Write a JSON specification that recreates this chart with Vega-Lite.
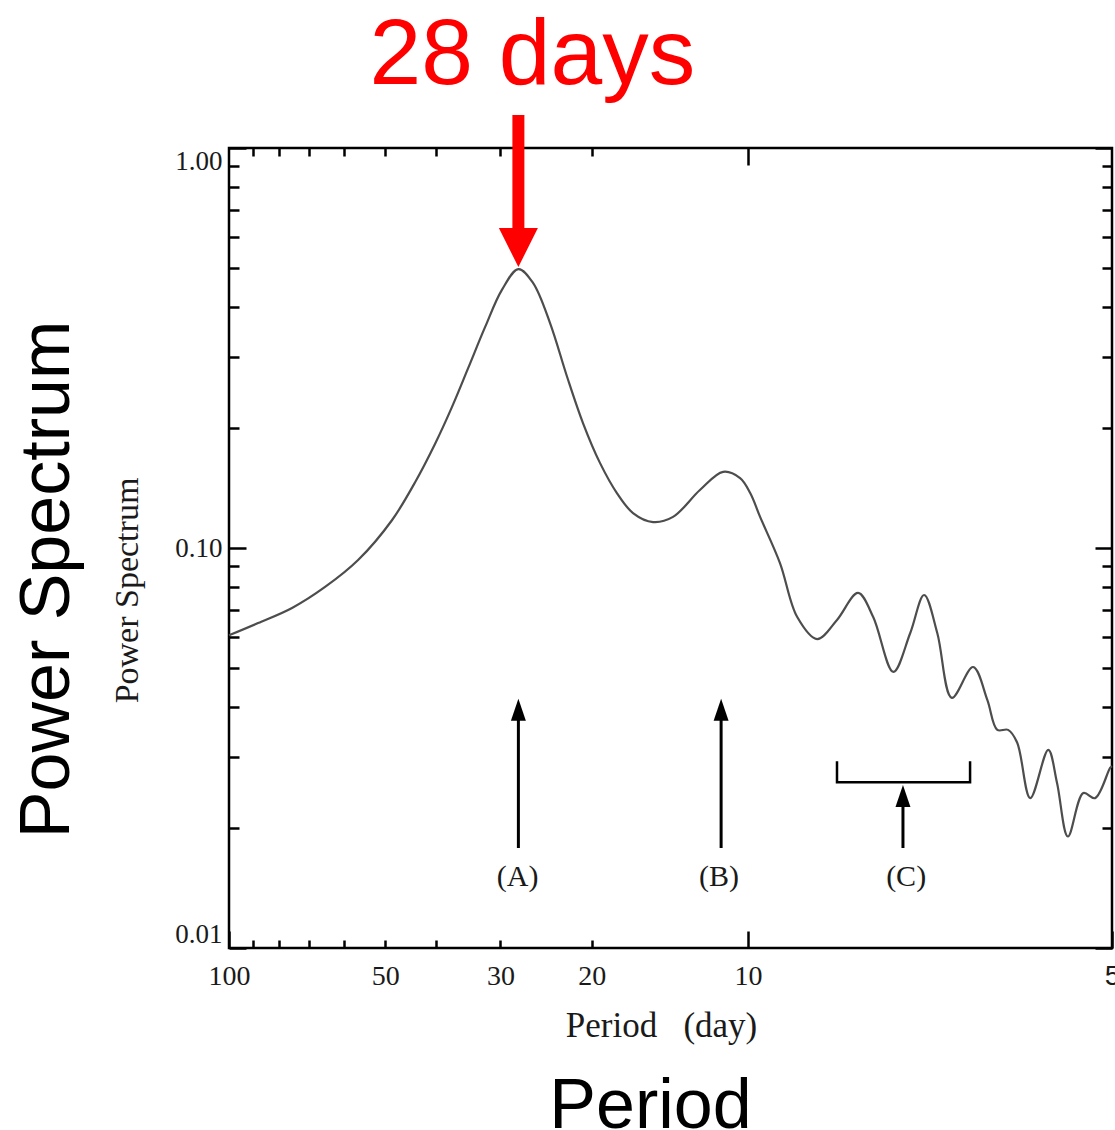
{
  "$schema": "https://vega.github.io/schema/vega-lite/v6.json",
  "width": 883,
  "height": 800,
  "autosize": {"type": "none"},
  "padding": {"left": 229, "top": 148, "right": 3, "bottom": 182},
  "background": "#ffffff",
  "config": {
    "view": {"stroke": "#000000", "strokeWidth": 2.5},
    "axis": {
      "grid": false, "domain": false, "tickColor": "#000000", "tickWidth": 2.5,
      "labelColor": "#1a1a1a", "labelFont": "Liberation Serif", "labelFontSize": 28,
      "labelOverlap": false, "labelBound": false, "labelFlush": false,
      "titleFontWeight": "normal", "titleColor": "#1a1a1a"
    }
  },
  "datasets": {
    "curve": [
      {"period": 100, "power": 0.0605},
      {"period": 87.9, "power": 0.0649},
      {"period": 75.6, "power": 0.0708},
      {"period": 65.3, "power": 0.0799},
      {"period": 56.4, "power": 0.0933},
      {"period": 48.5, "power": 0.1175},
      {"period": 43.8, "power": 0.146},
      {"period": 40.1, "power": 0.182},
      {"period": 37.2, "power": 0.225},
      {"period": 34.6, "power": 0.282},
      {"period": 32.1, "power": 0.357},
      {"period": 29.8, "power": 0.442},
      {"period": 27.7, "power": 0.498},
      {"period": 25.96, "power": 0.46},
      {"period": 24.07, "power": 0.365},
      {"period": 22.32, "power": 0.268},
      {"period": 20.79, "power": 0.205},
      {"period": 19.28, "power": 0.163},
      {"period": 17.88, "power": 0.137},
      {"period": 16.66, "power": 0.1223},
      {"period": 15.24, "power": 0.1161},
      {"period": 13.95, "power": 0.1196},
      {"period": 12.38, "power": 0.1396},
      {"period": 11.17, "power": 0.155},
      {"period": 10.36, "power": 0.1495},
      {"period": 9.9, "power": 0.137},
      {"period": 9.48, "power": 0.1196},
      {"period": 8.68, "power": 0.0917},
      {"period": 8.04, "power": 0.0672},
      {"period": 7.36, "power": 0.0592},
      {"period": 6.74, "power": 0.0661},
      {"period": 6.14, "power": 0.0772},
      {"period": 5.74, "power": 0.0672},
      {"period": 5.25, "power": 0.049},
      {"period": 4.87, "power": 0.0613},
      {"period": 4.58, "power": 0.0763},
      {"period": 4.32, "power": 0.0613},
      {"period": 4.05, "power": 0.0422},
      {"period": 3.685, "power": 0.0504},
      {"period": 3.46, "power": 0.0417},
      {"period": 3.31, "power": 0.0351},
      {"period": 3.155, "power": 0.0351},
      {"period": 3.03, "power": 0.0326},
      {"period": 2.86, "power": 0.0237},
      {"period": 2.64, "power": 0.0313},
      {"period": 2.54, "power": 0.0259},
      {"period": 2.42, "power": 0.019},
      {"period": 2.26, "power": 0.0244},
      {"period": 2.145, "power": 0.0237},
      {"period": 2.007, "power": 0.0282},
      {"period": 1.99, "power": 0.0285}
    ],
    "arrows": [
      {"label": "A", "period": 27.7, "lo": 0.01778, "hi": 0.0372, "head": 0.0394},
      {"label": "B", "period": 11.27, "lo": 0.01778, "hi": 0.0372, "head": 0.0394},
      {"label": "C", "period": 5.03, "lo": 0.01778, "hi": 0.0231, "head": 0.024}
    ],
    "bracket": [
      {"i": 1, "period": 6.74, "power": 0.0293},
      {"i": 2, "period": 6.74, "power": 0.02596},
      {"i": 3, "period": 3.735, "power": 0.02596},
      {"i": 4, "period": 3.735, "power": 0.0293}
    ],
    "labels": [
      {"text": "(A)", "period": 27.8, "power": 0.01503},
      {"text": "(B)", "period": 11.37, "power": 0.01503},
      {"text": "(C)", "period": 4.96, "power": 0.01503}
    ],
    "peak": [
      {"period": 27.7, "top": 1.209, "bottom": 0.616, "head": 0.564, "textpos": 1.445, "text": "28 days"}
    ]
  },
  "resolve": {"axis": {"x": "independent", "y": "independent"}},
  "layer": [
    {
      "data": {"name": "curve"},
      "mark": {"type": "line", "color": "#4d4d4d", "strokeWidth": 2.2, "interpolate": "catmull-rom"},
      "encoding": {
        "x": {"field": "period", "type": "quantitative",
          "scale": {"type": "log", "domain": [100, 1.99], "nice": false},
          "axis": {"orient": "bottom", "values": [90, 80, 70, 60, 50, 40, 30, 20], "tickSize": -8, "labelPadding": 22,
            "labelExpr": "(datum.value == 50 || datum.value == 30 || datum.value == 20) ? format(datum.value, 'd') : ''",
            "title": "Period\u00a0\u00a0\u00a0(day)", "titleFont": "Liberation Serif", "titleFontSize": 35,
            "titleX": 432, "titleY": 88, "titleBaseline": "alphabetic", "titleAlign": "center"}},
        "y": {"field": "power", "type": "quantitative",
          "scale": {"type": "log", "domain": [0.01, 1], "nice": false},
          "axis": {"orient": "left", "values": [0.02, 0.03, 0.04, 0.05, 0.06, 0.07, 0.08, 0.09, 0.2, 0.3, 0.4, 0.5, 0.6, 0.7, 0.8, 0.9],
            "tickSize": -10, "labels": false,
            "title": "Power Spectrum", "titleFont": "Liberation Serif", "titleFontSize": 34,
            "titleX": -92, "titleY": 442, "titleBaseline": "alphabetic", "titleAlign": "center", "titleAngle": -90}}
      }
    },
    {
      "data": {"name": "arrows"},
      "mark": {"type": "rule", "color": "#000000", "strokeWidth": 3},
      "encoding": {
        "x": {"field": "period", "type": "quantitative",
          "scale": {"type": "log", "domain": [100, 1.99], "nice": false},
          "axis": {"orient": "bottom", "values": [100, 10, 1.99], "tickSize": -17, "labelPadding": 31,
            "labelExpr": "datum.value < 2 ? '5' : format(datum.value, 'd')",
            "labelFont": {"condition": {"test": "datum.value < 2", "value": "Liberation Sans"}, "value": "Liberation Serif"},
            "title": null}},
        "y": {"field": "lo", "type": "quantitative",
          "scale": {"type": "log", "domain": [0.01, 1], "nice": false},
          "axis": {"orient": "left", "values": [0.01, 0.1, 1], "tickSize": -17, "labelPadding": 24, "labelFontSize": 27,
            "labelFlush": true,
            "labelExpr": "format(datum.value, '.2f')", "title": null}},
        "y2": {"field": "hi"}
      }
    },
    {
      "data": {"name": "arrows"},
      "mark": {"type": "point", "shape": "M 0 -1 L 0.68 1 L -0.68 1 Z", "size": 484, "filled": true, "color": "#000000", "opacity": 1},
      "encoding": {
        "x": {"field": "period", "type": "quantitative",
          "scale": {"type": "log", "domain": [100, 1.99], "nice": false},
          "axis": {"orient": "top", "values": [90, 80, 70, 60, 50, 40, 30, 20], "tickSize": -8, "labels": false, "title": null}},
        "y": {"field": "head", "type": "quantitative",
          "scale": {"type": "log", "domain": [0.01, 1], "nice": false},
          "axis": {"orient": "right", "values": [0.02, 0.03, 0.04, 0.05, 0.06, 0.07, 0.08, 0.09, 0.2, 0.3, 0.4, 0.5, 0.6, 0.7, 0.8, 0.9],
            "tickSize": -10, "labels": false, "title": null}}
      }
    },
    {
      "data": {"name": "bracket"},
      "mark": {"type": "line", "color": "#000000", "strokeWidth": 2.5, "strokeJoin": "miter"},
      "encoding": {
        "x": {"field": "period", "type": "quantitative",
          "scale": {"type": "log", "domain": [100, 1.99], "nice": false},
          "axis": {"orient": "top", "values": [10], "tickSize": -17, "labels": false, "title": null}},
        "y": {"field": "power", "type": "quantitative",
          "scale": {"type": "log", "domain": [0.01, 1], "nice": false},
          "axis": {"orient": "right", "values": [0.01, 0.1, 1], "tickSize": -17, "labels": false, "title": null}},
        "order": {"field": "i"}
      }
    },
    {
      "data": {"name": "labels"},
      "mark": {"type": "text", "font": "Liberation Serif", "fontSize": 30, "color": "#1a1a1a", "baseline": "middle", "align": "center"},
      "encoding": {
        "x": {"field": "period", "type": "quantitative",
          "scale": {"type": "log", "domain": [100, 1.99], "nice": false},
          "axis": {"orient": "bottom", "ticks": false, "labels": false, "title": "Period",
            "titleFont": "Liberation Sans", "titleFontSize": 70, "titleColor": "#000000",
            "titleX": 421, "titleY": 179, "titleBaseline": "alphabetic", "titleAlign": "center"}},
        "y": {"field": "power", "type": "quantitative",
          "scale": {"type": "log", "domain": [0.01, 1], "nice": false},
          "axis": {"orient": "left", "ticks": false, "labels": false, "title": "Power Spectrum",
            "titleFont": "Liberation Sans", "titleFontSize": 70, "titleColor": "#000000",
            "titleX": -161, "titleY": 431, "titleBaseline": "alphabetic", "titleAlign": "center", "titleAngle": -90}},
        "text": {"field": "text"}
      }
    },
    {
      "data": {"name": "peak"},
      "mark": {"type": "rule", "color": "#ff0000", "strokeWidth": 12, "strokeCap": "butt"},
      "encoding": {
        "x": {"field": "period", "type": "quantitative",
          "scale": {"type": "log", "domain": [100, 1.99], "nice": false}, "axis": null},
        "y": {"field": "top", "type": "quantitative",
          "scale": {"type": "log", "domain": [0.01, 1], "nice": false}, "axis": null},
        "y2": {"field": "bottom"}
      }
    },
    {
      "data": {"name": "peak"},
      "mark": {"type": "point", "shape": "M -1 -1 L 1 -1 L 0 1 Z", "size": 1521, "filled": true, "color": "#ff0000", "opacity": 1},
      "encoding": {
        "x": {"field": "period", "type": "quantitative",
          "scale": {"type": "log", "domain": [100, 1.99], "nice": false}, "axis": null},
        "y": {"field": "head", "type": "quantitative",
          "scale": {"type": "log", "domain": [0.01, 1], "nice": false}, "axis": null}
      }
    },
    {
      "data": {"name": "peak"},
      "mark": {"type": "text", "font": "Liberation Sans", "fontSize": 93, "color": "#ff0000", "baseline": "alphabetic", "align": "center", "dx": 14},
      "encoding": {
        "x": {"field": "period", "type": "quantitative",
          "scale": {"type": "log", "domain": [100, 1.99], "nice": false}, "axis": null},
        "y": {"field": "textpos", "type": "quantitative",
          "scale": {"type": "log", "domain": [0.01, 1], "nice": false}, "axis": null},
        "text": {"field": "text"}
      }
    }
  ]
}
